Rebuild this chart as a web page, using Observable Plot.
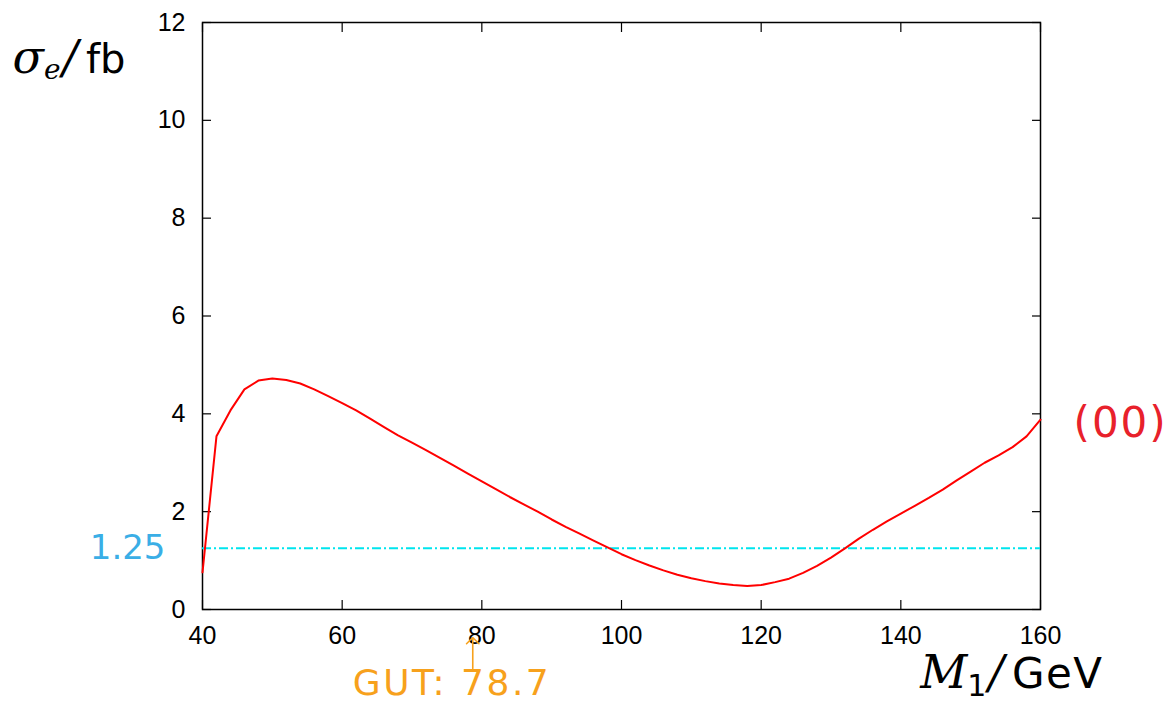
<!DOCTYPE html>
<html>
<head>
<meta charset="utf-8">
<script src="https://cdn.jsdelivr.net/npm/d3@7"></script>
<script src="https://cdn.jsdelivr.net/npm/@observablehq/plot@0.6"></script>
<style>
  body { margin: 0; background: #fff; }
  #chart svg { display: block; }
</style>
</head>
<body>
<div id="chart"></div>
<script>
// Neutralino mass M1 (GeV) and cross section sigma_e (fb)
const massM1 = [40, 42, 44, 46, 48, 50, 52, 54, 56, 58,
                60, 62, 64, 66, 68, 70, 72, 74, 76, 78,
                80, 82, 84, 86, 88, 90, 92, 94, 96, 98,
                100, 102, 104, 106, 108, 110, 112, 114, 116, 118,
                120, 122, 124, 126, 128, 130, 132, 134, 136, 138,
                140, 142, 144, 146, 148, 150, 152, 154, 156, 158, 160];
const sigmaE = [0.76, 3.54, 4.07, 4.50, 4.68, 4.72, 4.69, 4.62, 4.50, 4.36,
                4.22, 4.07, 3.90, 3.73, 3.56, 3.41, 3.26, 3.10, 2.94, 2.78,
                2.62, 2.46, 2.30, 2.15, 2.00, 1.84, 1.69, 1.55, 1.41, 1.27,
                1.13, 1.01, 0.90, 0.80, 0.71, 0.64, 0.58, 0.53, 0.50, 0.48,
                0.50, 0.56, 0.63, 0.75, 0.89, 1.06, 1.25, 1.45, 1.63, 1.80,
                1.96, 2.12, 2.28, 2.45, 2.64, 2.82, 3.00, 3.15, 3.32, 3.54, 3.88];

const xTicks = [40, 60, 80, 100, 120, 140, 160];
const yTicks = [0, 2, 4, 6, 8, 10, 12];

const limitValue = 1.25;     // horizontal reference level
const gutMass = 78.7;        // GUT relation value of M1
const scenarioLabel = "(00)";
const yTitle = "σe/fb";
const xTitle = "M1/GeV";

const curve = massM1.map((m, i) => ({m, s: sigmaE[i]}));
const last = curve[curve.length - 1];

const RED = "#ff0000";
const CYAN = "#00e5ee";
const BLUE = "#3aaee6";
const ORANGE = "#f7a11c";
const gutText = `GUT: ${gutMass}`;

const chart = Plot.plot({
  width: 1170,
  height: 705,
  marginLeft: 202,
  marginRight: 130,
  marginTop: 22,
  marginBottom: 96,
  style: {fontFamily: "'Liberation Sans', Arial, sans-serif", fontSize: "25px", color: "black", background: "white"},
  x: {domain: [40, 160]},
  y: {domain: [0, 12]},
  marks: [
    Plot.frame({stroke: "black", strokeWidth: 1.5}),
    Plot.axisX({ticks: xTicks, tickSize: -9, tickPadding: 26, label: null, fontSize: 25, strokeWidth: 1.2}),
    Plot.axisX({anchor: "top", ticks: xTicks, tickSize: -9, tickFormat: () => "", label: null, strokeWidth: 1.2}),
    Plot.axisY({ticks: yTicks, tickSize: -9, tickPadding: 26, label: null, fontSize: 25, strokeWidth: 1.2}),
    Plot.axisY({anchor: "right", ticks: yTicks, tickSize: -9, tickFormat: () => "", label: null, strokeWidth: 1.2}),
    Plot.ruleY([limitValue], {stroke: CYAN, strokeWidth: 2, strokeDasharray: "9,3,2,3"}),
    Plot.line(curve, {x: "m", y: "s", stroke: RED, strokeWidth: 2}),
    // level label at the left edge
    Plot.text([limitValue], {y: d => d, frameAnchor: "left", text: d => d.toFixed(2), textAnchor: "end",
      dx: -37, fill: BLUE, fontSize: 34, fontFamily: "'DejaVu Sans', sans-serif"}),
    // scenario tag next to the curve end
    Plot.text([last], {x: "m", y: "s", text: () => scenarioLabel, textAnchor: "start", dx: 33, dy: 4,
      fill: "#e8212b", fontSize: 42, fontFamily: "'DejaVu Sans', sans-serif"}),
    // GUT marker below the axis
    Plot.vector([gutMass], {x: d => d, frameAnchor: "bottom", length: 31, rotate: 0, anchor: "end",
      dy: 28, stroke: ORANGE, strokeWidth: 1.6, shape: "arrow"}),
    Plot.text([gutMass], {x: d => d, frameAnchor: "bottom", text: () => gutText, textAnchor: "start",
      dx: -120, dy: 85, fill: ORANGE, fontSize: 36, fontFamily: "'DejaVu Sans', sans-serif"}),
    // axis titles
    Plot.text([yTitle], {frameAnchor: "top-left", textAnchor: "start", dx: -190, dy: 22, fontSize: 40,
      fontFamily: "'DejaVu Sans', sans-serif"}),
    Plot.text([xTitle], {frameAnchor: "bottom-right", textAnchor: "end", dx: 63, dy: 78, fontSize: 42,
      fontFamily: "'DejaVu Sans', sans-serif"})
  ]
});

document.getElementById("chart").append(chart);

const texts = d3.select(chart).selectAll("text");
const byContent = str => texts.filter(function () { return this.textContent === str; });

// Wider tracking on the annotation labels
byContent(gutText).attr("letter-spacing", 2.5);
byContent(scenarioLabel).attr("letter-spacing", 2);

// Typeset the axis titles with italic symbols and subscripts
function typeset(str, parts) {
  byContent(str).each(function () {
    const t = d3.select(this);
    t.text(null);
    for (const p of parts) {
      const s = t.append("tspan").text(p.text);
      if (p.italic) s.attr("font-style", "italic").attr("font-family", "'DejaVu Serif', serif");
      if (p.size) s.attr("font-size", p.size);
      if (p.dy) s.attr("dy", p.dy);
      if (p.dx) s.attr("dx", p.dx);
      if (p.ls) s.attr("letter-spacing", p.ls);
    }
  });
}
typeset(yTitle, [
  {text: "σ", italic: true, size: 46},
  {text: "e", italic: true, size: 28, dy: 6},
  {text: "/", italic: true, size: 46, dy: -6, dx: 2},
  {text: "fb", dx: 8}
]);
typeset(xTitle, [
  {text: "M", italic: true, size: 46},
  {text: "1", size: 30, dy: 8},
  {text: "/", italic: true, size: 46, dy: -8, dx: 2},
  {text: "GeV", dx: 8, ls: 1.5}
]);
</script>
</body>
</html>
